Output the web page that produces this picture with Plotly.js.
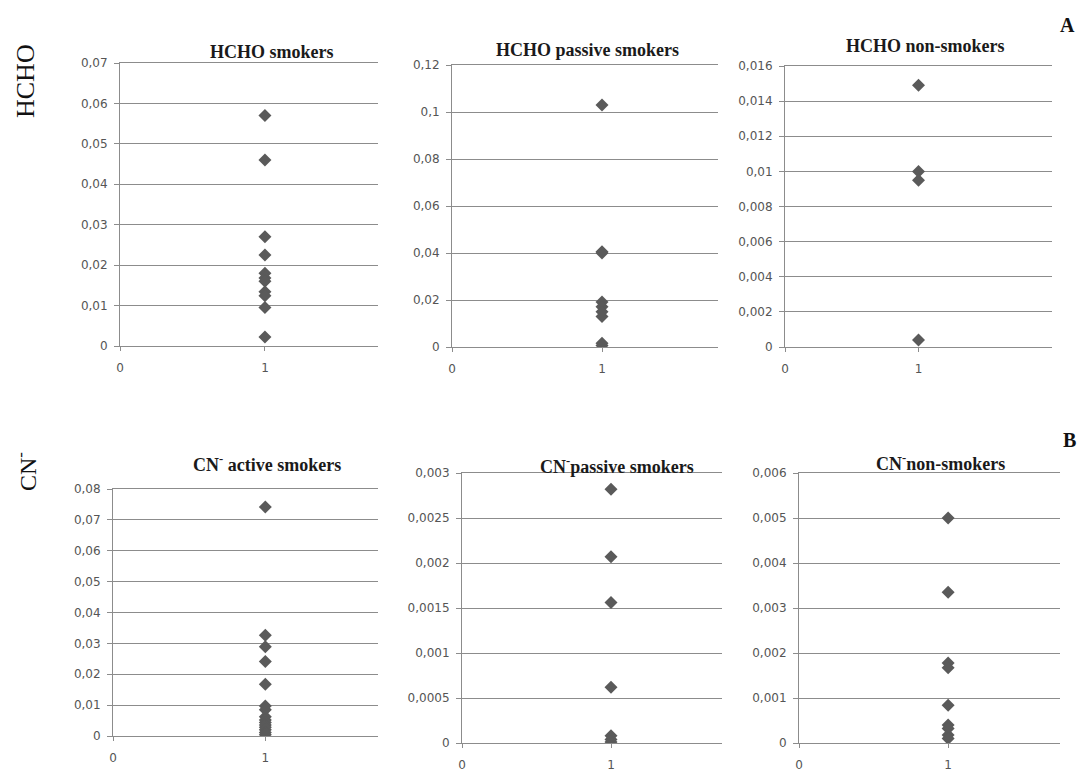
<!DOCTYPE html>
<html>
<head>
<meta charset="utf-8">
<script src="https://cdn.plot.ly/plotly-3.0.1.min.js"></script>
<style>html,body{margin:0;padding:0;background:#fff;}#chart{width:1079px;height:781px;}</style>
</head>
<body>
<div id="chart"></div>
<script>
// ---- data ----
const panelTitles = [
  "HCHO smokers",
  "HCHO passive smokers",
  "HCHO non-smokers",
  "CN<sup>-</sup> active smokers",
  "CN<sup>-</sup>passive smokers",
  "CN<sup>-</sup>non-smokers"
];
const rowLabels = ["HCHO", "CN<sup>-</sup>"];
const panelLetters = ["A", "B"];
const xTickVals = [0, 1];
const xTickText = ["0", "1"];

const hchoSmokers = [0.057, 0.046, 0.027, 0.0225, 0.018, 0.0168, 0.016, 0.0134, 0.0124, 0.0095, 0.0022];
const hchoPassive = [0.103, 0.0405, 0.040, 0.0192, 0.0171, 0.015, 0.013, 0.0016, 0.0006];
const hchoNon = [0.0149, 0.0100, 0.0095, 0.0004];
const cnActive = [0.0742, 0.0326, 0.0289, 0.0241, 0.0168, 0.0097, 0.0085, 0.0062, 0.0052, 0.0044, 0.0036, 0.0028, 0.002, 0.0011, 0.0004];
const cnPassive = [0.00282, 0.00207, 0.00156, 0.00062, 0.00008, 0.00004, 0.00001];
const cnNon = [0.0050, 0.00335, 0.00178, 0.00167, 0.00084, 0.0004, 0.00032, 0.00018, 0.0001];

const seriesList = [hchoSmokers, hchoPassive, hchoNon, cnActive, cnPassive, cnNon];
const yMax = [0.07, 0.12, 0.016, 0.08, 0.003, 0.006];
const yStep = [0.01, 0.02, 0.002, 0.01, 0.0005, 0.001];
const xMax = [1.78, 1.773, 2.0, 1.74, 1.745, 1.75];

// ---- layout geometry (pixels) ----
const W = 1079, H = 781;
const boxes = [
  {l:120, r:378, t:63, b:346},
  {l:452, r:718, t:65, b:347},
  {l:785, r:1052, t:66, b:347},
  {l:113, r:378, t:489, b:736},
  {l:462, r:722, t:473, b:743},
  {l:799, r:1060, t:473, b:743}
];
const titlePos = [
  {x:272, y:52}, {x:587, y:50}, {x:925, y:46},
  {x:267, y:463}, {x:617, y:465}, {x:940, y:462}
];

const traces = [];
const layout = {
  width: W, height: H,
  margin: {l:0, r:0, t:0, b:0},
  paper_bgcolor: "#ffffff",
  plot_bgcolor: "#ffffff",
  showlegend: false,
  separators: ",.",
  annotations: [],
  font: {family: "DejaVu Sans", color: "#555555"}
};

const gridCol = "#8c8c8c";
seriesList.forEach((vals, i) => {
  const n = i + 1;
  const xa = n === 1 ? "x" : "x" + n;
  const ya = n === 1 ? "y" : "y" + n;
  traces.push({
    type: "scatter", mode: "markers",
    x: vals.map(() => 1), y: vals,
    xaxis: xa, yaxis: ya,
    marker: {symbol: "diamond", size: 10, color: "#5a5a5a"},
    hoverinfo: "y"
  });
  const b = boxes[i];
  layout["xaxis" + (n === 1 ? "" : n)] = {
    domain: [b.l / W, b.r / W],
    anchor: ya,
    range: [0, xMax[i]],
    tickvals: xTickVals, ticktext: xTickText,
    showgrid: false, zeroline: false,
    showline: true, mirror: true, linecolor: gridCol, linewidth: 1,
    ticks: "outside", ticklen: 4, tickcolor: gridCol,
    ticklabelstandoff: 7,
    tickfont: {family: "DejaVu Sans", size: 12, color: "#555555"},
    fixedrange: true
  };
  layout["yaxis" + (n === 1 ? "" : n)] = {
    domain: [1 - b.b / H, 1 - b.t / H],
    anchor: xa,
    range: [0, yMax[i]],
    tick0: 0, dtick: yStep[i],
    showgrid: true, gridcolor: gridCol, gridwidth: 1,
    zeroline: false,
    showline: true, linecolor: gridCol, linewidth: 1,
    ticks: "outside", ticklen: 5, tickcolor: gridCol,
    ticklabelstandoff: 4,
    tickfont: {family: "DejaVu Sans", size: 12, color: "#555555"},
    fixedrange: true
  };
  layout.annotations.push({
    xref: "paper", yref: "paper",
    x: titlePos[i].x / W, y: 1 - titlePos[i].y / H,
    xanchor: "center", yanchor: "middle",
    text: "<b>" + panelTitles[i] + "</b>",
    showarrow: false,
    font: {family: "Liberation Serif", size: 18, color: "#1a1a1a"}
  });
});

// row labels
const rowLabelPos = [{x:26, y:81, size:26}, {x:26, y:472, size:24}];
rowLabels.forEach((t, i) => {
  layout.annotations.push({
    xref: "paper", yref: "paper",
    x: rowLabelPos[i].x / W, y: 1 - rowLabelPos[i].y / H,
    xanchor: "center", yanchor: "middle",
    text: t, textangle: -90, showarrow: false,
    font: {family: "Liberation Serif", size: rowLabelPos[i].size, color: "#111111"}
  });
});
// panel letters
const letterPos = [{x:1067, y:25}, {x:1069, y:440}];
panelLetters.forEach((t, i) => {
  layout.annotations.push({
    xref: "paper", yref: "paper",
    x: letterPos[i].x / W, y: 1 - letterPos[i].y / H,
    xanchor: "center", yanchor: "middle",
    text: "<b>" + t + "</b>", showarrow: false,
    font: {family: "Liberation Serif", size: 20, color: "#111111"}
  });
});

Plotly.newPlot("chart", traces, layout, {displayModeBar: false, staticPlot: true});
</script>
</body>
</html>
